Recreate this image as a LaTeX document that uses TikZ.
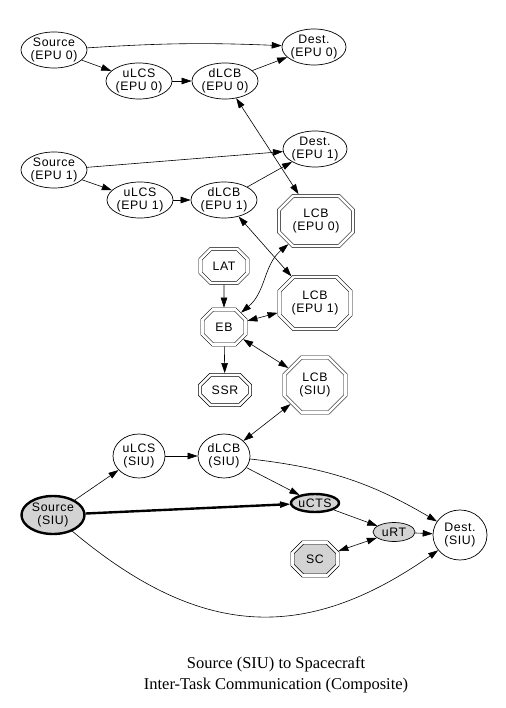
\documentclass[tikz,border=0pt]{standalone}
\usepackage{fontspec}
\newfontfamily\nodefont[LetterSpace=5]{Liberation Sans}
\newfontfamily\titlefont{Liberation Serif}
\usetikzlibrary{arrows.meta,shapes.geometric,shapes.misc}
\definecolor{lightgrey}{RGB}{211,211,211}
\tikzset{
  ev/.style={ellipse,draw,line width=0.7pt,inner xsep=-3pt,inner ysep=-0.5pt,align=center,font=\nodefont\fontsize{12.3}{13}\selectfont},
  oc/.style={chamfered rectangle,chamfered rectangle xsep=#1,chamfered rectangle ysep=#1,draw,double,double distance=2.6pt,line width=0.6pt,inner sep=0pt,outer sep=1.9pt,align=center,font=\nodefont\fontsize{12.3}{13}\selectfont},
  oc/.default=6pt,
  hl/.style={fill=lightgrey},
  bd/.style={line width=2.4pt},
  ar/.style={line width=0.6pt,-{Triangle[length=10pt,width=6.5pt,line width=0.6pt]}},
  bi/.style={line width=0.6pt,{Triangle[length=10pt,width=6.5pt,line width=0.6pt]}-{Triangle[length=10pt,width=6.5pt,line width=0.6pt]}},
  hv/.style={line width=2.4pt,-{Triangle[length=10pt,width=6.5pt,line width=0.6pt]}}
}

\begin{document}
\begin{tikzpicture}[x=1pt,y=1pt]
\useasboundingbox (0,0) rectangle (505,-708);
\node[ev,minimum width=66pt,minimum height=36pt] (s0) at (54,-50) {Source\\(EPU 0)};
\node[ev,minimum width=64pt,minimum height=36pt] (d0) at (314,-47) {Dest.\\(EPU 0)};
\node[ev,minimum width=66pt,minimum height=36pt] (u0) at (139,-81) {uLCS\\(EPU 0)};
\node[ev,minimum width=66pt,minimum height=36pt] (l0) at (225,-81) {dLCB\\(EPU 0)};
\node[ev,minimum width=66pt,minimum height=36pt] (s1) at (54,-170) {Source\\(EPU 1)};
\node[ev,minimum width=64pt,minimum height=36pt] (d1) at (315,-149) {Dest.\\(EPU 1)};
\node[ev,minimum width=66pt,minimum height=36pt] (u1) at (140,-200) {uLCS\\(EPU 1)};
\node[ev,minimum width=66pt,minimum height=36pt] (l1) at (224,-200) {dLCB\\(EPU 1)};
\node[oc=7pt,minimum width=74pt,minimum height=50pt] (lcb0) at (316,-221) {LCB\\(EPU 0)};
\node[oc=7pt,minimum width=71pt,minimum height=52pt] (lcb1) at (315,-303) {LCB\\(EPU 1)};
\node[oc=8.5pt,minimum width=61pt,minimum height=55pt] (lcbs) at (315,-385) {LCB\\(SIU)};
\node[oc,minimum width=47pt,minimum height=34pt] (lat) at (224,-266) {LAT};
\node[oc,minimum width=43pt,minimum height=35pt] (eb) at (224,-327) {EB};
\node[oc,minimum width=50pt,minimum height=30pt] (ssr) at (225,-390) {SSR};
\node[ev,minimum width=52pt,minimum height=44pt] (us) at (139,-456) {uLCS\\(SIU)};
\node[ev,minimum width=52pt,minimum height=44pt] (ls) at (224,-456) {dLCB\\(SIU)};
\node[ev,hl,bd,minimum width=63pt,minimum height=38pt] (ss) at (53,-515) {Source\\(SIU)};
\node[ev,hl,bd,minimum width=48pt,minimum height=18pt] (ucts) at (315,-503) {uCTS};
\node[ev,hl,minimum width=42pt,minimum height=19pt] (urt) at (394,-532) {uRT};
\node[ev,minimum width=54pt,minimum height=50pt] (ds) at (460,-535) {Dest.\\(SIU)};
\node[oc,hl,minimum width=45pt,minimum height=33pt] (sc) at (315,-559) {SC};
\draw[ar] (s0) to[bend left=3] (d0); \draw[ar] (s0) -- (u0); \draw[ar] (u0) -- (l0); \draw[ar] (l0) -- (d0);
\draw[bi] (l0) -- (lcb0);
\draw[ar] (s1) -- (d1); \draw[ar] (s1) -- (u1); \draw[ar] (u1) -- (l1); \draw[ar] (l1) -- (d1);
\draw[bi] (l1) -- (lcb1);
\draw[bi] (eb) to[out=40,in=220] (lcb0);
\draw[bi] (eb) -- (lcb1); \draw[bi] (eb) -- (lcbs);
\draw[ar] (lat) -- (eb); \draw[ar] (eb) -- (ssr);
\draw[bi] (ls) -- (lcbs);
\draw[ar] (us) -- (ls); \draw[ar] (ss) -- (us);
\draw[hv] (ss) -- (ucts);
\draw[ar] (ls) -- (ucts); \draw[ar] (ls) to[bend left=12] (ds);
\draw[ar] (ucts) -- (urt); \draw[ar] (urt) -- (ds);
\draw[bi] (sc) -- (urt);
\draw[ar] (ss) to[out=-40,in=-145,looseness=1.15] (ds);
\node[font=\titlefont\fontsize{16.5}{21}\selectfont,align=center] (title) at (276,-675) {Source (SIU) to Spacecraft\\Inter-Task Communication (Composite)};
\end{tikzpicture}
\end{document}
